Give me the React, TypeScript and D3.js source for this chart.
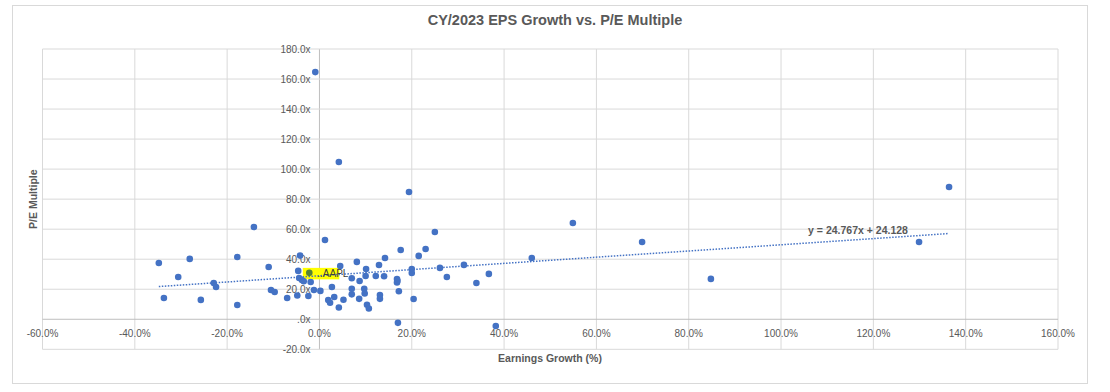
import React from 'react';
import * as d3 from 'd3';

// Earnings growth (%) and P/E multiple
const growth = [
  -34.8, -33.7, -30.6, -28.1, -25.7, -22.9, -22.4, -17.8, -17.8, -14.2,
  -11.0, -10.5, -9.7, -7.0, -4.8, -4.6, -4.2, -4.4, -3.8, -3.4,
  -2.4, -1.9, -1.2, -0.9, 0.2, 1.2, 2.7, 1.9, 2.3, 3.2,
  4.2, 4.5, 4.2, 5.2, 7.0, 7.0, 7.0, 8.1, 8.7, 8.6,
  9.7, 9.8, 10.0, 10.1, 10.3, 10.7, 12.2, 12.9, 13.1, 13.1,
  14.0, 14.2, 16.8, 16.8, 16.9, 17.2, 17.6, 17.0, 19.4, 20.0,
  20.0, 20.4, 21.5, 23.0, 25.0, 26.1, 27.6, 31.3, 34.0, 36.7,
  38.2, 46.0, 54.9, 69.9, 84.8, 129.9, 136.4,
];
const peMultiple = [
  37.5, 14.2, 28.2, 40.2, 12.9, 24.2, 21.5, 41.5, 9.5, 61.5,
  34.8, 19.5, 18.2, 14.2, 15.8, 32.2, 42.4, 27.5, 26.2, 25.3,
  15.5, 24.8, 19.5, 164.6, 18.9, 52.8, 21.5, 12.8, 11.0, 14.8,
  104.7, 35.5, 7.8, 13.0, 27.3, 20.3, 16.6, 38.2, 25.5, 13.6,
  20.3, 17.2, 28.8, 33.4, 9.6, 7.2, 28.8, 36.1, 16.1, 13.6,
  28.7, 40.8, 26.8, 24.5, 25.6, 18.7, 46.1, -2.4, 84.8, 33.5,
  30.8, 13.5, 42.2, 46.8, 58.1, 34.2, 28.2, 36.2, 24.2, 30.2,
  -4.5, 40.8, 64.1, 51.5, 26.9, 51.5, 88.1,
];

// highlighted company
const highlightName = 'AAPL';
const highlightGrowth = -2.2;
const highlightPe = 30.9;

const xTicks = [-60, -40, -20, 0, 20, 40, 60, 80, 100, 120, 140, 160];
const yTicks = [-20, 0, 20, 40, 60, 80, 100, 120, 140, 160, 180];

const title = 'CY/2023 EPS Growth vs. P/E Multiple';
const xTitle = 'Earnings Growth (%)';
const yTitle = 'P/E Multiple';
const equation = 'y = 24.767x + 24.128';

const W = 1110;
const H = 392;
const FONT = '"Liberation Sans", Arial, sans-serif';
const TEXT = '#595959';
const GRID = '#D9D9D9';
const BLUE = '#4472C4';

const App: React.FC = () => {
  const x = d3.scaleLinear().domain([-60, 160]).range([42.5, 1058]);
  const y = d3.scaleLinear().domain([-20, 180]).range([349.3, 49]);

  const allX = [...growth, highlightGrowth];
  const allY = [...peMultiple, highlightPe];

  // least squares trend line over the data's x range
  const mx = d3.mean(allX)!;
  const my = d3.mean(allY)!;
  const slope = d3.sum(allX, (v, i) => (v - mx) * (allY[i] - my)) / d3.sum(allX, (v) => (v - mx) ** 2);
  const intercept = my - slope * mx;
  const [x0, x1] = d3.extent(allX) as [number, number];
  const trend = d3.line<number>()
    .x((d) => x(d))
    .y((d) => y(intercept + slope * d));

  const hx = x(highlightGrowth);
  const hy = y(highlightPe);

  return (
    <svg width={W} height={H} style={{ position: 'absolute', left: 0, top: 0, background: '#fff' }}>
      <rect x={12.5} y={5.5} width={1075} height={378} fill="#fff" stroke={GRID} />
      <text x={555} y={25} textAnchor="middle" fontFamily={FONT} fontSize={14.5} fontWeight="bold" fill={TEXT}>
        {title}
      </text>

      {/* grid */}
      {xTicks.map((t) => (
        <line key={'gx' + t} x1={x(t)} x2={x(t)} y1={y(-20)} y2={y(180)}
          stroke={t === 0 ? '#BFBFBF' : GRID} strokeWidth={1} />
      ))}
      {yTicks.map((t) => (
        <line key={'gy' + t} x1={x(-60)} x2={x(160)} y1={y(t)} y2={y(t)}
          stroke={t === 0 ? '#BFBFBF' : GRID} strokeWidth={1} />
      ))}

      {/* tick labels */}
      {xTicks.map((t) => (
        <text key={'tx' + t} x={x(t)} y={y(0) + 18} textAnchor="middle" fontFamily={FONT} fontSize={10} fill={TEXT}>
          {t.toFixed(1) + '%'}
        </text>
      ))}
      {yTicks.map((t) => (
        <text key={'ty' + t} x={x(0) - 9} y={y(t) + 3.5} textAnchor="end" fontFamily={FONT} fontSize={10} fill={TEXT}>
          {t === 0 ? '.0x' : t.toFixed(1) + 'x'}
        </text>
      ))}

      {/* axis titles */}
      <text x={550} y={362} textAnchor="middle" fontFamily={FONT} fontSize={10.5} fontWeight="bold" fill={TEXT}>
        {xTitle}
      </text>
      <text transform={`translate(37,${(y(-20) + y(180)) / 2}) rotate(-90)`} textAnchor="middle"
        fontFamily={FONT} fontSize={10.5} fontWeight="bold" fill={TEXT}>
        {yTitle}
      </text>

      {/* highlight label box */}
      <rect x={hx - 6.5} y={hy - 5} width={36.5} height={11.5} fill="#FFFF00" />

      {/* trend line */}
      <path d={trend([x0, x1])!} fill="none" stroke={BLUE} strokeWidth={1.5} strokeDasharray="1.5,1.5" />

      {growth.map((g, i) => (
        <circle key={i} cx={x(g)} cy={y(peMultiple[i])} r={3.3} fill={BLUE} />
      ))}
      <circle cx={hx} cy={hy} r={3.3} fill="#548235" />
      <text x={hx + 8} y={hy + 4} fontFamily={FONT} fontSize={10} fill="#404040">
        {'..' + highlightName}
      </text>

      <text x={858} y={234} textAnchor="middle" fontFamily={FONT} fontSize={10.5} fontWeight="bold" fill={TEXT}>
        {equation}
      </text>
    </svg>
  );
};

export default App;
